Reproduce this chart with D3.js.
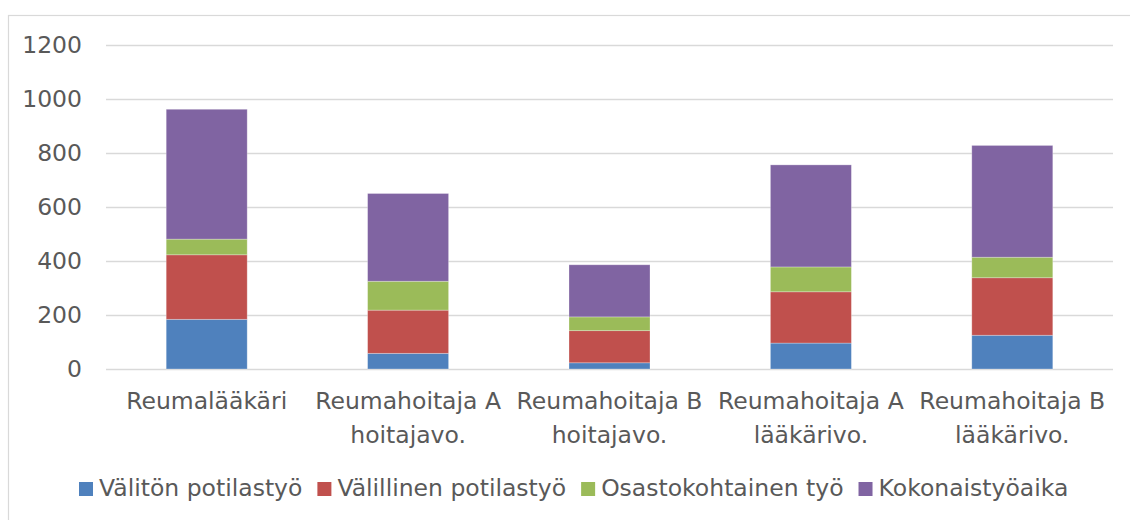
<!DOCTYPE html>
<html>
<head>
<meta charset="utf-8">
<script src="https://cdn.jsdelivr.net/npm/d3@7"></script>
<style>
  html, body { margin: 0; padding: 0; background: #fff; }
  svg { display: block; }
  text { font-family: "DejaVu Sans", Verdana, sans-serif; fill: #595959; }
</style>
</head>
<body>
<svg id="chart" width="1130" height="520"></svg>
<script>
const categories = [
  ["Reumalääkäri"],
  ["Reumahoitaja A", "hoitajavo."],
  ["Reumahoitaja B", "hoitajavo."],
  ["Reumahoitaja A", "lääkärivo."],
  ["Reumahoitaja B", "lääkärivo."]
];
const seriesNames = ["Välitön potilastyö", "Välillinen potilastyö", "Osastokohtainen työ", "Kokonaistyöaika"];
const valitonPotilastyo   = [184, 58, 23, 96, 125];
const valillinenPotilastyo = [239, 160, 119, 190, 213];
const osastokohtainenTyo  = [58, 107, 51, 92, 76];
const kokonaistyoaika     = [481, 325, 193, 378, 414];
const yTicks = [0, 200, 400, 600, 800, 1000, 1200];
const colors = ["#4F81BD", "#C0504D", "#9BBB59", "#8064A2"];

const svg = d3.select("#chart");
const fontSize = 23.5;

// outer chart border
svg.append("rect").attr("x", 8.5).attr("y", 15.5).attr("width", 1140).attr("height", 540)
  .attr("fill", "none").attr("stroke", "#d9d9d9").attr("stroke-width", 1.2);

const plot = {left: 106, right: 1113, top: 45, bottom: 369};
const x = d3.scaleBand().domain(d3.range(categories.length)).range([plot.left, plot.right]).paddingInner(0).paddingOuter(0);
const y = d3.scaleLinear().domain([0, 1200]).range([plot.bottom, plot.top]);

// gridlines
svg.append("g").selectAll("line").data(yTicks).join("line")
  .attr("x1", plot.left).attr("x2", plot.right)
  .attr("y1", d => Math.round(y(d)) + 0.5).attr("y2", d => Math.round(y(d)) + 0.5)
  .attr("stroke", "#d9d9d9").attr("stroke-width", 1.3);

// y tick labels
svg.append("g").selectAll("text").data(yTicks).join("text")
  .attr("x", 82).attr("y", d => y(d))
  .attr("dy", "0.36em")
  .attr("text-anchor", "end")
  .style("font-size", fontSize + "px")
  .text(d => d);

// stacked bars
const rows = categories.map((c, i) => ({
  i,
  s0: valitonPotilastyo[i], s1: valillinenPotilastyo[i], s2: osastokohtainenTyo[i], s3: kokonaistyoaika[i]
}));
const stack = d3.stack().keys(["s0", "s1", "s2", "s3"]);
const stacked = stack(rows);
const barW = 81;
svg.append("g").selectAll("g").data(stacked).join("g")
  .attr("fill", (d, k) => colors[k])
  .selectAll("rect").data(d => d).join("rect")
  .attr("x", d => x(d.data.i) + x.bandwidth() / 2 - barW / 2)
  .attr("width", barW)
  .attr("y", d => y(d[1]))
  .attr("height", d => y(d[0]) - y(d[1]))
  .attr("stroke", "rgba(255,255,255,0.35)").attr("stroke-width", 0.8);

// category labels
const catG = svg.append("g");
categories.forEach((lines, i) => {
  const t = catG.append("text")
    .attr("text-anchor", "middle")
    .style("font-size", fontSize + "px");
  lines.forEach((ln, j) => {
    t.append("tspan").attr("x", x(i) + x.bandwidth() / 2).attr("y", 409 + j * 34).text(ln);
  });
});

// legend
const legend = svg.append("g");
let lx = 79;
seriesNames.forEach((name, k) => {
  legend.append("rect").attr("x", lx).attr("y", 482).attr("width", 14).attr("height", 14).attr("fill", colors[k]);
  const t = legend.append("text").attr("x", lx + 20).attr("y", 496)
    .style("font-size", "23.5px").text(name);
  const w = t.node().getComputedTextLength();
  lx = lx + 20 + w + 15;
});
</script>
</body>
</html>
